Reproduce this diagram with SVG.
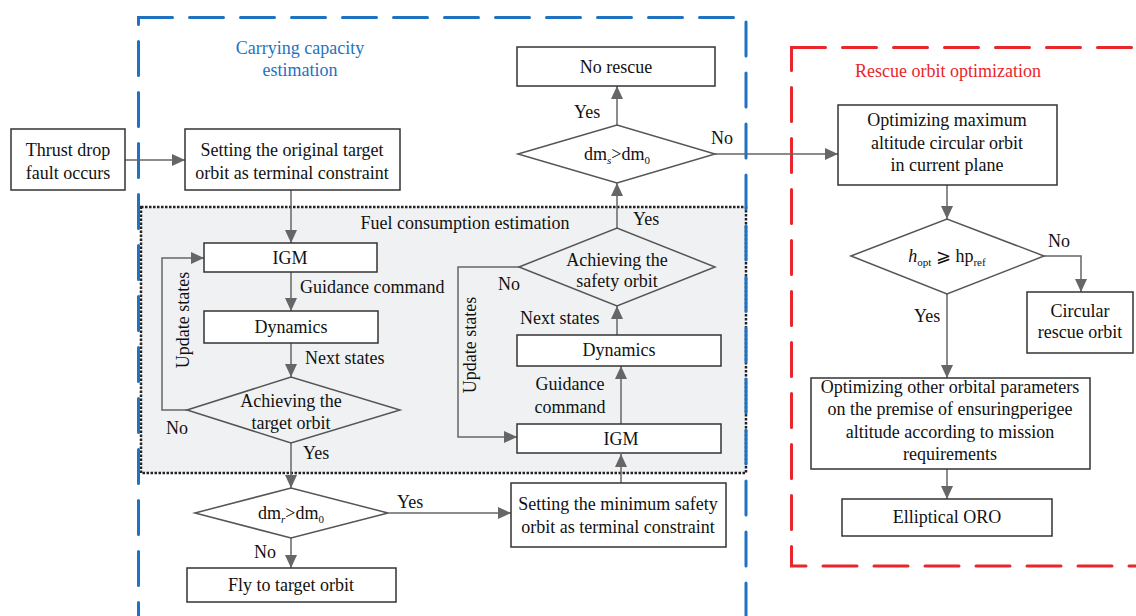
<svg xmlns="http://www.w3.org/2000/svg" width="1136" height="616" viewBox="0 0 1136 616" font-family="'Liberation Serif','Times New Roman',serif">
<style>
text{font-family:"Liberation Serif","Times New Roman",serif;font-size:18px;fill:#111}
.c{text-anchor:middle}
.box{fill:#fff;stroke:#333;stroke-width:1.5}
.dia{fill:#fff;stroke:#555;stroke-width:1.5}
.diag{fill:#f0f1f3;stroke:#555;stroke-width:1.5}
.con{fill:none;stroke:#666;stroke-width:1.5}
.sub{font-size:11px}
</style>
<defs>
<marker id="ah" markerWidth="13" markerHeight="12" refX="13" refY="6" orient="auto" markerUnits="userSpaceOnUse">
<path d="M0,0 L13,6 L0,12 z" fill="#666"/>
</marker>
</defs>
<g id="regions">
<rect x="141" y="207" width="605" height="266" fill="#f0f1f3" stroke="#222" stroke-width="2.5" stroke-dasharray="2.5,1.5"/>
<rect x="138.5" y="17.5" width="607.5" height="620" fill="none" stroke="#1f72bf" stroke-width="3" stroke-dasharray="34,17" stroke-linecap="round"/>
<rect x="791.5" y="47.5" width="360" height="518.5" fill="none" stroke="#e8262c" stroke-width="3" stroke-dasharray="34,17" stroke-linecap="round"/>
<text class="c" x="300" y="54" style="fill:#1f72bf">Carrying capacity</text>
<text class="c" x="300" y="76" style="fill:#1f72bf">estimation</text>
<text class="c" x="948" y="77" style="fill:#e8262c">Rescue orbit optimization</text>
<text class="c" x="465" y="229">Fuel consumption estimation</text>
</g>
<g id="connectors">
<line class="con" x1="125" y1="160" x2="185" y2="160" marker-end="url(#ah)"/>
<line class="con" x1="291" y1="190" x2="291" y2="243" marker-end="url(#ah)"/>
<line class="con" x1="291" y1="272" x2="291" y2="311" marker-end="url(#ah)"/>
<line class="con" x1="291" y1="343" x2="291" y2="377" marker-end="url(#ah)"/>
<polyline class="con" points="187,410 162,410 162,258 204,258" marker-end="url(#ah)"/>
<line class="con" x1="291" y1="443" x2="291" y2="488" marker-end="url(#ah)"/>
<line class="con" x1="291" y1="538" x2="291" y2="568" marker-end="url(#ah)"/>
<line class="con" x1="388" y1="513" x2="511" y2="513" marker-end="url(#ah)"/>
<line class="con" x1="621" y1="483" x2="621" y2="454" marker-end="url(#ah)"/>
<line class="con" x1="621" y1="424" x2="621" y2="366" marker-end="url(#ah)"/>
<line class="con" x1="617" y1="335" x2="617" y2="306" marker-end="url(#ah)"/>
<polyline class="con" points="519,267 458,267 458,437 517,437" marker-end="url(#ah)"/>
<line class="con" x1="617" y1="228" x2="617" y2="183" marker-end="url(#ah)"/>
<line class="con" x1="617" y1="125" x2="617" y2="86" marker-end="url(#ah)"/>
<line class="con" x1="715" y1="154" x2="838" y2="154" marker-end="url(#ah)"/>
<line class="con" x1="947" y1="185" x2="947" y2="219" marker-end="url(#ah)"/>
<polyline class="con" points="1044,256 1081,256 1081,292" marker-end="url(#ah)"/>
<line class="con" x1="947" y1="294" x2="947" y2="378" marker-end="url(#ah)"/>
<line class="con" x1="947" y1="469" x2="947" y2="499" marker-end="url(#ah)"/>
<text x="300" y="293">Guidance command</text>
<text x="305" y="364">Next states</text>
<text x="166" y="434">No</text>
<text x="303" y="459">Yes</text>
<text transform="translate(189,320) rotate(-90)" class="c">Update states</text>
<text x="254" y="558">No</text>
<text x="397" y="508">Yes</text>
<text class="c" x="570" y="390">Guidance</text>
<text class="c" x="570" y="413">command</text>
<text x="520" y="324">Next states</text>
<text x="498" y="290">No</text>
<text x="633" y="225">Yes</text>
<text transform="translate(476,345) rotate(-90)" class="c">Update states</text>
<text x="574" y="118">Yes</text>
<text x="711" y="144">No</text>
<text x="1048" y="247">No</text>
<text x="914" y="322">Yes</text>
</g>
<g id="n-thrust"><rect class="box" x="11" y="129" width="114" height="61"/><text class="c" x="68" y="156">Thrust drop</text><text class="c" x="68" y="179">fault occurs</text></g>
<g id="n-setorig"><rect class="box" x="185" y="129" width="215" height="61"/><text class="c" x="292" y="156">Setting the original target</text><text class="c" x="292" y="179">orbit as terminal constraint</text></g>
<g id="n-igm1"><rect class="box" x="204" y="243" width="173" height="29"/><text class="c" x="290" y="264">IGM</text></g>
<g id="n-dyn1"><rect class="box" x="204" y="311" width="174" height="32"/><text class="c" x="291" y="333">Dynamics</text></g>
<g id="n-target"><polygon class="diag" points="187,410 291,377 400,410 291,443"/><text class="c" x="291" y="407">Achieving the</text><text class="c" x="291" y="429">target orbit</text></g>
<g id="n-dmr"><polygon class="dia" points="195,513 291,488 388,513 291,538"/><text class="c" x="291" y="519">dm<tspan class="sub" font-style="italic" dy="4">r</tspan><tspan dy="-4">&gt;dm</tspan><tspan class="sub" dy="4">0</tspan></text></g>
<g id="n-fly"><rect class="box" x="187" y="568" width="209" height="34"/><text class="c" x="291" y="591">Fly to target orbit</text></g>
<g id="n-setmin"><rect class="box" x="511" y="483" width="215" height="64"/><text class="c" x="618" y="510">Setting the minimum safety</text><text class="c" x="618" y="533">orbit as terminal constraint</text></g>
<g id="n-igm2"><rect class="box" x="517" y="424" width="204" height="29"/><text class="c" x="621" y="445">IGM</text></g>
<g id="n-dyn2"><rect class="box" x="517" y="335" width="204" height="31"/><text class="c" x="619" y="356">Dynamics</text></g>
<g id="n-safety"><polygon class="diag" points="519,267 617,228 715,267 617,306"/><text class="c" x="617" y="266">Achieving the</text><text class="c" x="617" y="287">safety orbit</text></g>
<g id="n-dms"><polygon class="dia" points="518,154 617,125 715,154 617,183"/><text class="c" x="617" y="160">dm<tspan class="sub" font-style="italic" dy="4">s</tspan><tspan dy="-4">&gt;dm</tspan><tspan class="sub" dy="4">0</tspan></text></g>
<g id="n-norescue"><rect class="box" x="517" y="47" width="198" height="39"/><text class="c" x="616" y="73">No rescue</text></g>
<g id="n-optmax"><rect class="box" x="838" y="105" width="219" height="80"/><text class="c" x="947" y="126">Optimizing maximum</text><text class="c" x="947" y="149">altitude circular orbit</text><text class="c" x="947" y="171">in current plane</text></g>
<g id="n-hopt"><polygon class="dia" points="851,256 947,219 1044,256 947,294"/><text class="c" x="947" y="262"><tspan font-style="italic">h</tspan><tspan class="sub" dy="4">opt</tspan><tspan dy="-4"> ⩾ hp</tspan><tspan class="sub" dy="4">ref</tspan></text></g>
<g id="n-circ"><rect class="box" x="1027" y="292" width="106" height="61"/><text class="c" x="1080" y="317">Circular</text><text class="c" x="1080" y="338">rescue orbit</text></g>
<g id="n-optother"><rect class="box" x="811" y="378" width="279" height="91"/><text class="c" x="950" y="393">Optimizing other orbital parameters</text><text class="c" x="950" y="415">on the premise of ensuringperigee</text><text class="c" x="950" y="438">altitude according to mission</text><text class="c" x="950" y="460">requirements</text></g>
<g id="n-ellip"><rect class="box" x="842" y="499" width="210" height="37"/><text class="c" x="947" y="523">Elliptical ORO</text></g>
</svg>
